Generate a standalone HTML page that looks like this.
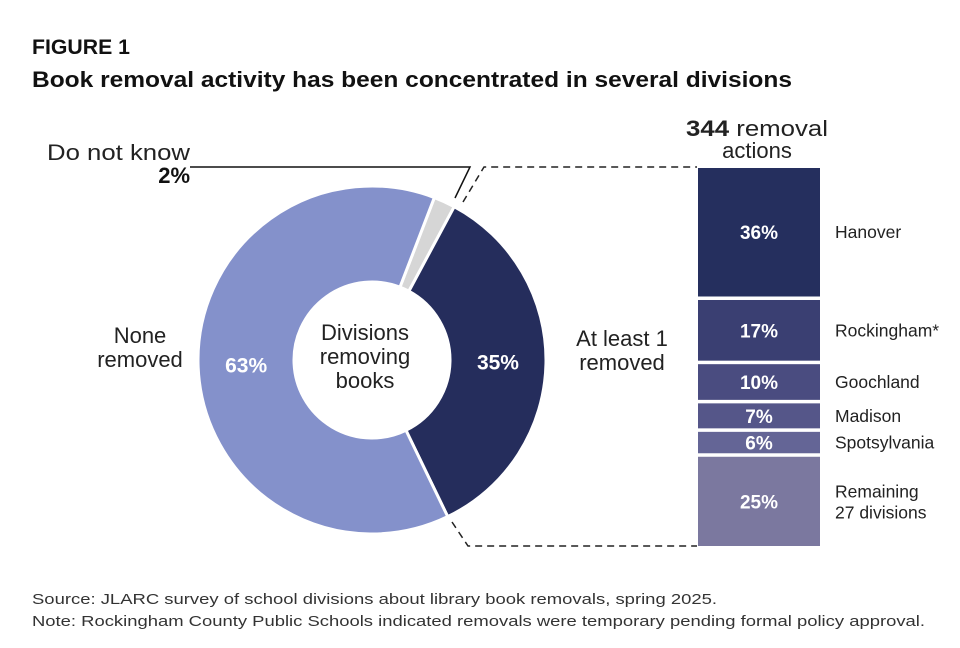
<!DOCTYPE html>
<html><head><meta charset="utf-8">
<style>
body{margin:0;background:#fff;font-family:"Liberation Sans",sans-serif;}
svg text{font-family:"Liberation Sans",sans-serif;}
</style></head>
<body>
<svg width="960" height="643" viewBox="0 0 960 643">
<text x="32" y="54" font-size="21" font-weight="bold" fill="#111" textLength="98" lengthAdjust="spacingAndGlyphs">FIGURE 1</text>
<text x="32" y="87" font-size="22" font-weight="bold" fill="#111" textLength="760" lengthAdjust="spacingAndGlyphs">Book removal activity has been concentrated in several divisions</text>
<g id="donut"></g>
<g id="bars"></g>
<text x="365" y="340" font-size="22" text-anchor="middle" fill="#222"><tspan x="365">Divisions</tspan><tspan x="365" dy="24">removing</tspan><tspan x="365" dy="24">books</tspan></text>
<text x="140" y="343" font-size="22" text-anchor="middle" fill="#222"><tspan x="140">None</tspan><tspan x="140" dy="24">removed</tspan></text>
<text x="622" y="346" font-size="22" text-anchor="middle" fill="#222"><tspan x="622">At least 1</tspan><tspan x="622" dy="24">removed</tspan></text>
<text x="190" y="160" font-size="22" text-anchor="end" fill="#222" textLength="143" lengthAdjust="spacingAndGlyphs">Do not know</text>
<text x="190" y="183" font-size="22" font-weight="bold" text-anchor="end" fill="#111">2%</text>
<text x="757" y="136" font-size="22" text-anchor="middle" fill="#222" textLength="142" lengthAdjust="spacingAndGlyphs"><tspan font-weight="bold">344</tspan> removal</text>
<text x="757" y="158" font-size="22" text-anchor="middle" fill="#222">actions</text>
<polyline points="190,167 470,167 455,198" fill="none" stroke="#111" stroke-width="1.5"/>
<polyline points="463,202 484,167 697,167" fill="none" stroke="#222" stroke-width="1.5" stroke-dasharray="7,5"/>
<polyline points="452,522 468,546 697,546" fill="none" stroke="#222" stroke-width="1.5" stroke-dasharray="7,5"/>
<text x="32" y="604" font-size="15" fill="#333" textLength="685" lengthAdjust="spacingAndGlyphs">Source: JLARC survey of school divisions about library book removals, spring 2025.</text>
<text x="32" y="626" font-size="15" fill="#333" textLength="893" lengthAdjust="spacingAndGlyphs">Note: Rockingham County Public Schools indicated removals were temporary pending formal policy approval.</text>
</svg>
<script>
const donutCats=["Do not know","At least 1 removed","None removed"];
const donutVals=[2,35,63];
const donutLabels=["","35%","63%"];
const barCats=["Hanover","Rockingham*","Goochland","Madison","Spotsylvania","Remaining|27 divisions"];
const barVals=[36,17,10,7,6,25];
const NS="http://www.w3.org/2000/svg";
const donutColors=["#d6d6d6","#252d5c","#8491cb"];
const cx=372,cy=360,R=174,r=78,start=21;
const dg=document.getElementById("donut");
const tot=donutVals.reduce((a,b)=>a+b,0);
function pt(a,rad){const t=(a-90)*Math.PI/180;return [cx+rad*Math.cos(t),cy+rad*Math.sin(t)];}
let a0=start;
donutVals.forEach((v,i)=>{
  const a1=a0+v/tot*360;
  const [x1,y1]=pt(a0,R),[x2,y2]=pt(a1,R),[x3,y3]=pt(a1,r),[x4,y4]=pt(a0,r);
  const lg=(a1-a0)>180?1:0;
  const p=document.createElementNS(NS,"path");
  p.setAttribute("d",`M${x1},${y1}A${R},${R} 0 ${lg} 1 ${x2},${y2}L${x3},${y3}A${r},${r} 0 ${lg} 0 ${x4},${y4}Z`);
  p.setAttribute("fill",donutColors[i]);p.setAttribute("stroke","#fff");p.setAttribute("stroke-width","3");
  
  
  dg.appendChild(p);
  if(donutLabels[i]){
    const [tx,ty]=pt((a0+a1)/2,(R+r)/2);
    const t=document.createElementNS(NS,"text");
    t.setAttribute("x",tx);t.setAttribute("y",ty+7);t.setAttribute("text-anchor","middle");
    t.setAttribute("font-size","21");t.setAttribute("font-weight","bold");t.setAttribute("fill","#fff");
    t.textContent=donutLabels[i];
    
    
    dg.appendChild(t);
  }
  a0=a1;
});
const barColors=["#252f5e","#3a3f72","#4a4c80","#555689","#646596","#7b789f"];
const bg=document.getElementById("bars");
const bx=698,bw=122,top0=168,bot=546,gap=3.5;
const btot=barVals.reduce((a,b)=>a+b,0);
const avail=bot-top0-gap*(barVals.length-1);
let y=top0;
barVals.forEach((v,i)=>{
  const h=v/btot*avail;
  const rc=document.createElementNS(NS,"rect");
  rc.setAttribute("x",bx);rc.setAttribute("y",y);rc.setAttribute("width",bw);rc.setAttribute("height",h);
  rc.setAttribute("fill",barColors[i]);
  
  
  bg.appendChild(rc);
  const t=document.createElementNS(NS,"text");
  t.setAttribute("x",bx+bw/2);t.setAttribute("y",y+h/2+7);t.setAttribute("text-anchor","middle");
  t.setAttribute("font-size","19");t.setAttribute("font-weight","bold");t.setAttribute("fill","#fff");
  t.textContent=v+"%";
  
  
  bg.appendChild(t);
  const parts=barCats[i].split("|");
  const l=document.createElementNS(NS,"text");
  l.setAttribute("x",835);l.setAttribute("font-size","17.5");l.setAttribute("fill","#222");
  const y0=y+h/2+6-(parts.length-1)*10;
  parts.forEach((s,k)=>{const ts=document.createElementNS(NS,"tspan");ts.setAttribute("x",835);ts.setAttribute("y",y0+k*21);ts.textContent=s;l.appendChild(ts);});
  
  
  bg.appendChild(l);
  y+=h+gap;
});
</script>
</body></html>
